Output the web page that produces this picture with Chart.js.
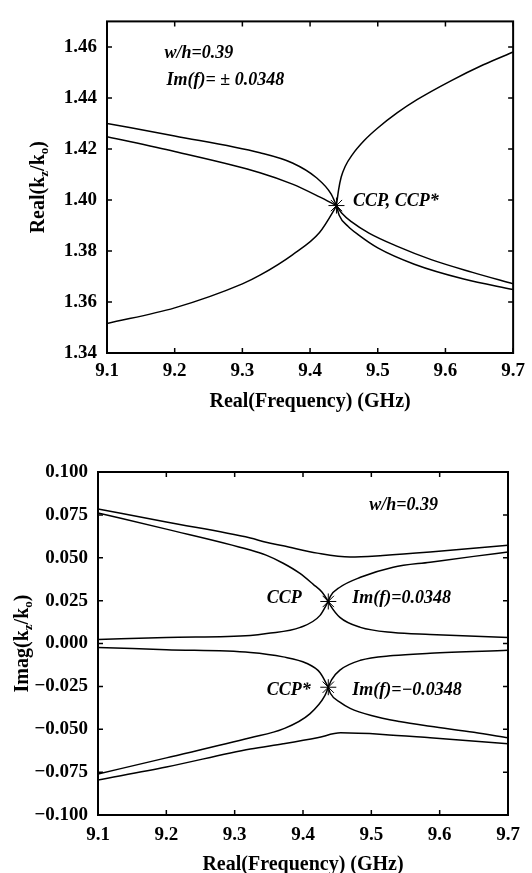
<!DOCTYPE html>
<html>
<head>
<meta charset="utf-8">
<script src="https://cdn.jsdelivr.net/npm/chart.js@4/dist/chart.umd.min.js"></script>
<style>
  body { margin: 0; background: #fff; width: 532px; height: 873px; overflow: hidden; }
  .box { position: absolute; left: 0; width: 532px; }
</style>
</head>
<body>
<div class="box" style="top:0;height:414px"><canvas id="realChart"></canvas></div>
<div class="box" style="top:440px;height:437px"><canvas id="imagChart"></canvas></div>
<script>
const xTicks = [9.1, 9.2, 9.3, 9.4, 9.5, 9.6, 9.7];
const realTicks = [1.34, 1.36, 1.38, 1.40, 1.42, 1.44, 1.46];
const imagTicks = [-0.100, -0.075, -0.050, -0.025, 0.000, 0.025, 0.050, 0.075, 0.100];

// ---- Real(kz/k0) panel ----
const reALeftF = [9.1, 9.2, 9.326, 9.374, 9.409, 9.431, 9.439];
const reALeftV = [1.4300, 1.4251, 1.4185, 1.4145, 1.4088, 1.4024, 1.3978];
const reBLeftF = [9.1, 9.2, 9.326, 9.374, 9.414, 9.439];
const reBLeftV = [1.4248, 1.4190, 1.4107, 1.4062, 1.4012, 1.3978];
const reARightF = [9.439, 9.447, 9.462, 9.487, 9.529, 9.579, 9.64, 9.7];
const reARightV = [1.3978, 1.3948, 1.3913, 1.3870, 1.3818, 1.3766, 1.3716, 1.3671];
const reBRightF = [9.439, 9.443, 9.456, 9.472, 9.5, 9.554, 9.627, 9.7];
const reBRightV = [1.3978, 1.3940, 1.3897, 1.3862, 1.3812, 1.3748, 1.3690, 1.3649];
// rising branch
const reCLeftF = [9.1, 9.2, 9.3, 9.326, 9.374, 9.414, 9.436, 9.439];
const reCLeftV = [1.3516, 1.3577, 1.3671, 1.3705, 1.3785, 1.3872, 1.3963, 1.3978];
const reCRightF = [9.439, 9.442, 9.446, 9.452, 9.462, 9.48, 9.5, 9.529, 9.558, 9.608, 9.656, 9.7];
const reCRightV = [1.3978, 1.4038, 1.4090, 1.4132, 1.4176, 1.4233, 1.4282, 1.4342, 1.4393, 1.4467, 1.4530, 1.4580];

// ---- Imag(kz/k0) panel ----
const im1F = [9.1, 9.2, 9.323, 9.346, 9.371, 9.421, 9.469, 9.517, 9.586, 9.7];
const im1V = [0.0785, 0.0708, 0.0615, 0.0590, 0.0570, 0.0527, 0.0504, 0.0513, 0.0533, 0.0573];
const im2F = [9.1, 9.2, 9.323, 9.346, 9.371, 9.395, 9.415, 9.428, 9.437];
const im2V = [0.0761, 0.0667, 0.0545, 0.0515, 0.0468, 0.0410, 0.0345, 0.0299, 0.0245];
const im3F = [9.437, 9.44, 9.454, 9.484, 9.532, 9.586, 9.65, 9.7];
const im3V = [0.0245, 0.0275, 0.0328, 0.0386, 0.0445, 0.0474, 0.0508, 0.0533];
const im4F = [9.1, 9.2, 9.323, 9.347, 9.396, 9.425, 9.437];
const im4V = [0.0023, 0.0035, 0.0047, 0.0058, 0.0094, 0.0164, 0.0245];
const im5F = [9.437, 9.44, 9.454, 9.484, 9.532, 9.586, 9.7];
const im5V = [0.0245, 0.0222, 0.0152, 0.0094, 0.0064, 0.0053, 0.0035];

const im6F = [9.1, 9.2, 9.323, 9.371, 9.405, 9.425, 9.437];
const im6V = [-0.0023, -0.0036, -0.0052, -0.0078, -0.0115, -0.0170, -0.0255];
const im7F = [9.437, 9.442, 9.454, 9.484, 9.532, 9.586, 9.7];
const im7V = [-0.0255, -0.0210, -0.0155, -0.0098, -0.0070, -0.0057, -0.0040];
const im8F = [9.1, 9.2, 9.323, 9.371, 9.41, 9.432, 9.437];
const im8V = [-0.0761, -0.0667, -0.0550, -0.0498, -0.0410, -0.0304, -0.0255];
const im9F = [9.437, 9.44, 9.455, 9.469, 9.5, 9.541, 9.586, 9.65, 9.7];
const im9V = [-0.0255, -0.0290, -0.0345, -0.0378, -0.0420, -0.0455, -0.0483, -0.0518, -0.0550];
const im10F = [9.1, 9.2, 9.323, 9.371, 9.421, 9.455, 9.517, 9.586, 9.7];
const im10V = [-0.0796, -0.0720, -0.0615, -0.0585, -0.0550, -0.0521, -0.0530, -0.0550, -0.0585];

// coalescence points
const ccpF = [9.439];
const ccpV = [1.3978];
const ccpImF = [9.437, 9.437];
const ccpImV = [0.0245, -0.0255];

const serif = '"Liberation Serif", "Times New Roman", serif';

function curve(xs, ys) {
  return {
    data: xs.map((x, i) => ({ x: x, y: ys[i] })),
    showLine: true,
    borderColor: '#000',
    borderWidth: 1.5,
    pointRadius: 0,
    cubicInterpolationMode: 'monotone',
    fill: false
  };
}

function stars(xs, ys) {
  return {
    data: xs.map((x, i) => ({ x: x, y: ys[i] })),
    showLine: false,
    pointStyle: 'star',
    pointRadius: 8,
    borderColor: '#000',
    borderWidth: 1,
    backgroundColor: '#000'
  };
}

// frame, inward ticks, notes and the subscripted y title
const framePlugin = {
  id: 'frame',
  afterDraw(chart, args, opts) {
    const { ctx, chartArea: a } = chart;
    const x = chart.scales.x, y = chart.scales.y;
    ctx.save();
    ctx.strokeStyle = '#000';
    ctx.lineWidth = 2;
    ctx.strokeRect(a.left, a.top, a.right - a.left, a.bottom - a.top);
    ctx.lineWidth = 1.5;
    ctx.beginPath();
    x.ticks.forEach(t => {
      const px = x.getPixelForValue(t.value);
      ctx.moveTo(px, a.bottom); ctx.lineTo(px, a.bottom - 5);
      ctx.moveTo(px, a.top); ctx.lineTo(px, a.top + 5);
    });
    y.ticks.forEach(t => {
      const py = y.getPixelForValue(t.value);
      ctx.moveTo(a.left, py); ctx.lineTo(a.left + 5, py);
      ctx.moveTo(a.right, py); ctx.lineTo(a.right - 5, py);
    });
    ctx.stroke();

    ctx.fillStyle = '#000';
    ctx.font = 'italic bold 18px ' + serif;
    ctx.textBaseline = 'middle';
    ctx.textAlign = 'left';
    opts.notes.forEach(n => {
      ctx.fillText(n.text, x.getPixelForValue(n.x), y.getPixelForValue(n.y));
    });

    // y title with subscripts
    const big = 'bold 20px ' + serif, small = 'bold 13px ' + serif;
    let total = 0;
    opts.title.forEach(p => { ctx.font = p[1] ? small : big; total += ctx.measureText(p[0]).width; });
    ctx.translate(opts.titleX, (a.top + a.bottom) / 2);
    ctx.rotate(-Math.PI / 2);
    ctx.textBaseline = 'alphabetic';
    let pos = -total / 2;
    opts.title.forEach(p => {
      ctx.font = p[1] ? small : big;
      ctx.fillText(p[0], pos, p[1] ? 4 : 0);
      pos += ctx.measureText(p[0]).width;
    });
    ctx.restore();
  }
};

function makeOptions(cfg) {
  return {
    responsive: true,
    maintainAspectRatio: false,
    animation: false,
    layout: { padding: { top: cfg.padTop, right: cfg.padRight, left: 0, bottom: 0 } },
    plugins: {
      legend: { display: false },
      tooltip: { enabled: false },
      frame: { notes: cfg.notes, title: cfg.title, titleX: cfg.titleX }
    },
    scales: {
      x: {
        type: 'linear',
        min: 9.1,
        max: 9.7,
        afterBuildTicks: s => { s.ticks = xTicks.map(v => ({ value: v })); },
        afterFit: s => { s.height = cfg.xHeight; },
        grid: { display: false, drawTicks: false },
        border: { display: false },
        ticks: {
          color: '#000',
          padding: cfg.xPad,
          maxRotation: 0,
          font: { family: serif, size: 19, weight: 'bold' },
          callback: v => v.toFixed(1)
        },
        title: {
          display: true,
          text: 'Real(Frequency) (GHz)',
          color: '#000',
          padding: { top: 0, bottom: 0 },
          font: { family: serif, size: 20, weight: 'bold' }
        }
      },
      y: {
        type: 'linear',
        min: cfg.yMin,
        max: cfg.yMax,
        afterBuildTicks: s => { s.ticks = cfg.yTicks.map(v => ({ value: v })); },
        afterFit: s => { s.width = cfg.yWidth; },
        grid: { display: false, drawTicks: false },
        border: { display: false },
        ticks: {
          color: '#000',
          padding: 10,
          font: { family: serif, size: 19, weight: 'bold' },
          callback: v => v.toFixed(cfg.digits).replace('-', '\u2212')
        }
      }
    }
  };
}

new Chart(document.getElementById('realChart'), {
  type: 'scatter',
  data: {
    datasets: [
      curve(reALeftF, reALeftV),
      curve(reBLeftF, reBLeftV),
      curve(reARightF, reARightV),
      curve(reBRightF, reBRightV),
      curve(reCLeftF, reCLeftV),
      curve(reCRightF, reCRightV),
      stars(ccpF, ccpV)
    ]
  },
  options: makeOptions({
    padTop: 9, padRight: 16, xHeight: 61, yWidth: 107, xPad: 7,
    yMin: 1.34, yMax: 1.47, yTicks: realTicks, digits: 2, titleX: 44,
    title: [['Real(k', false], ['z', true], ['/k', false], ['o', true], [')', false]],
    notes: [
      { text: 'w/h=0.39', x: 9.185, y: 1.4575 },
      { text: 'Im(f)= \u00b1 0.0348', x: 9.188, y: 1.4467 },
      { text: 'CCP, CCP*', x: 9.4635, y: 1.3996 }
    ]
  }),
  plugins: [framePlugin]
});

new Chart(document.getElementById('imagChart'), {
  type: 'scatter',
  data: {
    datasets: [
      curve(im1F, im1V), curve(im2F, im2V), curve(im3F, im3V),
      curve(im4F, im4V), curve(im5F, im5V), curve(im6F, im6V),
      curve(im7F, im7V), curve(im8F, im8V), curve(im9F, im9V),
      curve(im10F, im10V),
      stars(ccpImF, ccpImV)
    ]
  },
  options: makeOptions({
    padTop: 32, padRight: 24, xHeight: 62, yWidth: 98, xPad: 9,
    yMin: -0.1, yMax: 0.1, yTicks: imagTicks, digits: 3, titleX: 28,
    title: [['Imag(k', false], ['z', true], ['/k', false], ['o', true], [')', false]],
    notes: [
      { text: 'w/h=0.39', x: 9.497, y: 0.0808 },
      { text: 'CCP', x: 9.347, y: 0.0263 },
      { text: 'Im(f)=0.0348', x: 9.472, y: 0.0263 },
      { text: 'CCP*', x: 9.347, y: -0.0275 },
      { text: 'Im(f)=\u22120.0348', x: 9.472, y: -0.0275 }
    ]
  }),
  plugins: [framePlugin]
});
</script>
</body>
</html>
